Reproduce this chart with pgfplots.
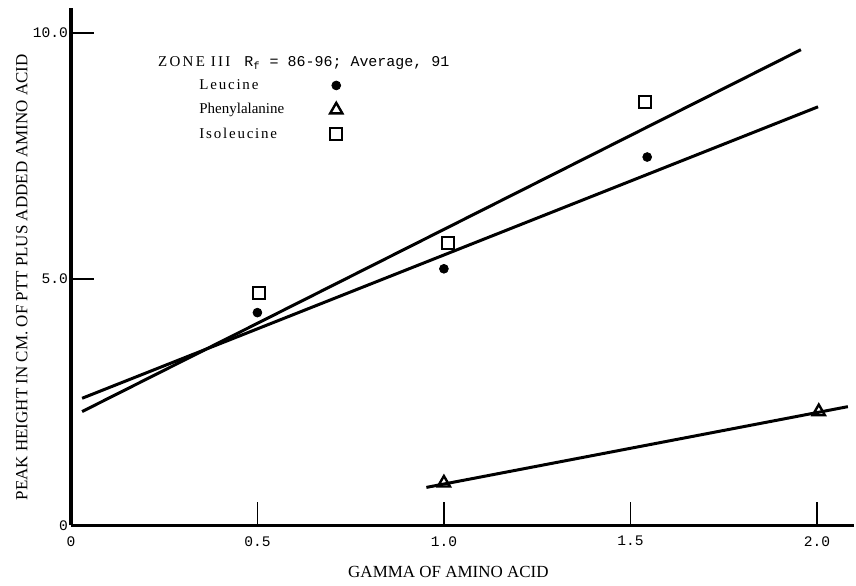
\documentclass[border=0pt]{standalone}
\usepackage{fontspec}
\setmainfont{Liberation Serif}
\setmonofont{Liberation Mono}
\usepackage{pgfplots}
\pgfplotsset{compat=1.18}
\begin{document}
\begin{tikzpicture}
\begin{axis}[
  at={(0pt,0pt)}, anchor=south west,
  x=186.75pt, y=24.65pt,
  xmin=0, xmax=2.10, ymin=0, ymax=10.5,
  axis lines=left,
  axis line style={line width=1.8pt, -},
  clip=false,
  tick align=inside,
  major tick length=11.5pt,
  tick style={line width=0.8pt, black},
  xtick={0,0.5,1,1.5,2},
  xticklabels={0,0.5,1.0,1.5,2.0},
  ytick={0,5,10},
  yticklabels={0,5.0,10.0},
  xticklabel style={font=\ttfamily\fontsize{7.3}{8}\selectfont, yshift=-2pt},
  yticklabel style={font=\ttfamily\fontsize{7.3}{8}\selectfont, xshift=2pt},
  xlabel={GAMMA OF AMINO ACID},
  ylabel={PEAK HEIGHT IN CM. OF PTT PLUS ADDED AMINO ACID},
  every axis x label/.style={at={(axis description cs:0.482,0)}, yshift=-23.5pt, anchor=center, font=\fontsize{8.5}{10}\selectfont},
  every axis y label/.style={at={(axis description cs:0,0.48)}, xshift=-24.5pt, rotate=90, anchor=center, font=\fontsize{8.5}{10}\selectfont},
  legend plot pos=right,
  legend cell align=left,
  legend style={at={(axis description cs:0.161,0.869)}, anchor=north west, draw=none, fill=none,
    font=\fontsize{7.5}{9}\selectfont, inner sep=0pt, row sep=3.2pt, column sep=22pt,
    nodes={inner sep=1pt, text height=5.5pt, text depth=1.5pt}},
]
% data points
\addplot[only marks, mark=*, mark size=2.2pt, black] coordinates {(0.5,4.32) (1.0,5.21) (1.545,7.48)};
\addlegendentry{\addfontfeature{LetterSpace=12}Leucine}
\addplot[only marks, mark=triangle, mark size=3.5pt, black, line width=1.2pt] coordinates {(1.0,0.86) (2.005,2.31)};
\addlegendentry{Phenylalanine}
\addplot[only marks, mark=square, mark size=3pt, black, line width=1pt] coordinates {(0.505,4.71) (1.01,5.74) (1.54,8.60)};
\addlegendentry{\addfontfeature{LetterSpace=12}Isoleucine}
% fitted lines
\addplot[black, line width=1.5pt, forget plot] coordinates {(0.03,2.58) (2.003,8.50)};
\addplot[black, line width=1.5pt, forget plot] coordinates {(0.03,2.31) (1.957,9.66)};
\addplot[black, line width=1.5pt, forget plot] coordinates {(0.953,0.77) (2.083,2.41)};
\node[anchor=west, inner sep=0pt, font=\fontsize{7.5}{9}\selectfont] at (axis description cs:0.111,0.894) {{\addfontfeature{LetterSpace=15}ZONE III}\hspace{7pt}{\ttfamily R\textsubscript{f} = 86-96; Average, 91}};
\end{axis}
\path[use as bounding box] (-35.5pt,-30pt) rectangle (392.5pt,263pt);
\end{tikzpicture}
\end{document}
